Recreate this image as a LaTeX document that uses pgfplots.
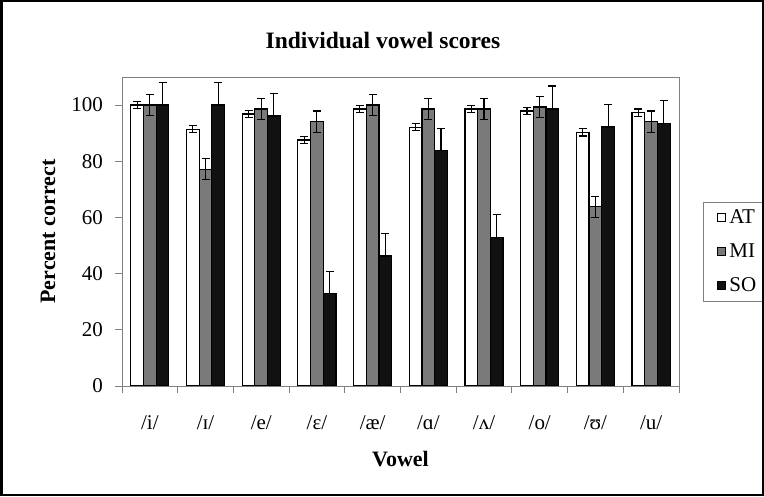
\documentclass[border=0pt]{standalone}
\usepackage{pgfplots}
\pgfplotsset{compat=1.18}
\usepackage{fontspec}
\setmainfont{Liberation Serif}

\definecolor{barmid}{RGB}{122,122,122}
\definecolor{bardark}{RGB}{17,17,17}
\definecolor{frameg}{RGB}{128,128,128}

% percent correct per vowel, with error (+/-)
\pgfplotstableread{
x at atE mi miE so soE
0 100.0 1.2 100.0 3.7 100.0 8.0
1 91.4 1.3 77.2 3.8 100.0 8.0
2 96.8 1.2 98.6 3.8 96.1 8.0
3 87.6 1.3 94.1 3.8 32.9 8.0
4 98.6 1.2 100.0 3.7 46.3 8.0
5 92.1 1.3 98.6 3.8 83.7 8.0
6 98.6 1.3 98.6 3.8 52.9 8.0
7 97.9 1.3 99.3 3.7 98.6 8.2
8 90.3 1.3 63.8 3.8 92.2 8.0
9 97.3 1.3 94.1 3.8 93.5 8.0
}\vowels

\begin{document}
\fontsize{21}{25}\selectfont
\begin{tikzpicture}
\node[font=\fontsize{23.5}{28}\selectfont\bfseries] at (383pt,456pt) {Individual vowel scores};
\begin{axis}[
  at={(122pt,110pt)}, anchor=south west,
  scale only axis, width=557pt, height=309pt,
  xmin=-0.5, xmax=9.5, ymin=0, ymax=110,
  ytick={0,20,...,100},
  xtick={0,...,9},
  xticklabels={/i/,/ɪ/,/e/,/ɛ/,/æ/,/ɑ/,/ʌ/,/o/,/ʊ/,/u/},
  major x tick style={draw=none},
  minor xtick={-0.5,0.5,...,9.5},
  tick align=outside, tick pos=left,
  major tick length=7pt, minor tick length=7pt,
  tick style={frameg, line width=0.8pt},
  axis line style={frameg, line width=0.9pt},
  /pgf/number format/assume math mode=true,
  tick label style={font=\fontsize{21}{25}\selectfont},
  yticklabel style={xshift=-5pt},
  xticklabel style={yshift=-15pt},
  xlabel={\bfseries Vowel}, ylabel={\bfseries Percent correct},
  label style={font=\fontsize{22}{26}\selectfont},
  xlabel style={at={(axis description cs:0.5,-0.236)}, anchor=center},
  ylabel style={at={(axis description cs:-0.133,0.5)}, anchor=center},
  ybar, bar width=0.228,
  legend style={at={(1.043,0.596)}, anchor=north west, draw=frameg, line width=0.9pt,
    font=\fontsize{21}{25}\selectfont, row sep=13pt, inner xsep=6pt, inner ysep=5pt},
  legend cell align=left,
  legend image code/.code={\path[draw=none, fill=none] (-8pt,0pt) -- (10pt,0pt);
    \draw[#1, line width=0.8pt] (0pt,-4pt) rectangle (8pt,4pt);},
  error bars/error bar style={black, line width=1.1pt},
  error bars/error mark options={black, rotate=90, mark size=4pt, line width=1.1pt},
]
\addplot[draw=black, line width=1.2pt, fill=white, bar shift=-0.228,
  error bars/.cd, y dir=both, y explicit]
  table[x=x, y=at, y error=atE] {\vowels};
\addplot[draw=black, line width=1.2pt, fill=barmid, bar shift=0,
  error bars/.cd, y dir=both, y explicit]
  table[x=x, y=mi, y error=miE] {\vowels};
\addplot[draw=black, line width=1.2pt, fill=bardark, bar shift=0.228,
  error bars/.cd, y dir=plus, y explicit]
  table[x=x, y=so, y error=soE] {\vowels};
\legend{AT,MI,SO}
\draw[frameg, line width=0.9pt] (rel axis cs:0,1) -- (rel axis cs:1,1) -- (rel axis cs:1,0);
\end{axis}
\pgfresetboundingbox
\path[use as bounding box] (0pt,0pt) rectangle (764pt,496pt);
\fill[white] (762pt,0pt) rectangle (790pt,496pt);
\draw[line width=2.5pt] (1.25pt,1.25pt) rectangle (762.75pt,494.75pt);
\end{tikzpicture}
\end{document}
